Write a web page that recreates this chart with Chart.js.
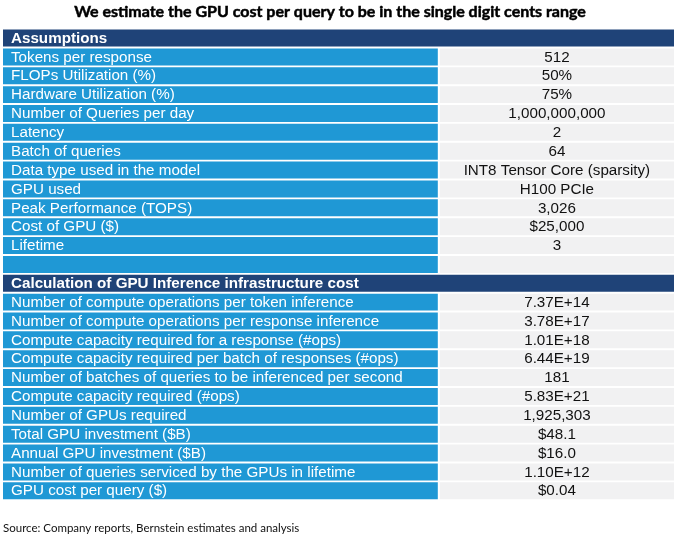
<!DOCTYPE html>
<html>
<head>
<meta charset="utf-8">
<script src="https://cdn.jsdelivr.net/npm/chart.js@4"></script>
<style>
  html, body { margin: 0; padding: 0; background: #fff; }
  #wrap { width: 680px; height: 539px; }
</style>
</head>
<body>
<div id="wrap"><canvas id="gpuTable"></canvas></div>
<script>
// Table contents
const chartTitle = 'We estimate the GPU cost per query to be in the single digit cents range';
const sourceNote = 'Source: Company reports, Bernstein estimates and analysis';
const sectionTitles = ['Assumptions', 'Calculation of GPU Inference infrastructure cost'];

const assumptionLabels = [
    'Tokens per response', 'FLOPs Utilization (%)', 'Hardware Utilization (%)',
    'Number of Queries per day', 'Latency', 'Batch of queries',
    'Data type used in the model', 'GPU used', 'Peak Performance (TOPS)',
    'Cost of GPU ($)', 'Lifetime'
];
const assumptionValues = [
    '512', '50%', '75%', '1,000,000,000', '2', '64',
    'INT8 Tensor Core (sparsity)', 'H100 PCIe', '3,026', '$25,000', '3'
];

const calcLabels = [
    'Number of compute operations per token inference',
    'Number of compute operations per response inference',
    'Compute capacity required for a response (#ops)',
    'Compute capacity required per batch of responses (#ops)',
    'Number of batches of queries to be inferenced per second',
    'Compute capacity required (#ops)',
    'Number of GPUs required',
    'Total GPU investment ($B)',
    'Annual GPU investment ($B)',
    'Number of queries serviced by the GPUs in lifetime',
    'GPU cost per query ($)'
];
const calcValues = [
    '7.37E+14', '3.78E+17', '1.01E+18', '6.44E+19', '181', '5.83E+21',
    '1,925,303', '$48.1', '$16.0', '1.10E+12', '$0.04'
];

document.addEventListener('DOMContentLoaded', () => {
    const navy = '#1f4378';
    const blue = '#1f98d5';
    const grey = '#f1f1f2';
    const splitLeft = 64.8;   // end of label column (x scale units)
    const splitRight = 65.1;  // start of value column
    const cellFont = '15.2px "Liberation Sans", Arial, sans-serif';

    // build the rows: header, items, blank, header, items
    const rows = [];
    rows.push({ kind: 'head', label: sectionTitles[0], value: '' });
    assumptionLabels.forEach((l, i) => rows.push({ kind: 'row', label: l, value: assumptionValues[i] }));
    rows.push({ kind: 'row', label: '', value: '' });
    rows.push({ kind: 'head', label: sectionTitles[1], value: '' });
    calcLabels.forEach((l, i) => rows.push({ kind: 'row', label: l, value: calcValues[i] }));

    const labelCells = rows.map(r => r.kind === 'head' ? [0, 100] : [0, splitLeft]);
    const valueCells = rows.map(r => r.kind === 'head' ? null : [splitRight, 100]);

    // Title + cell text drawn at the scale positions of each row
    const cellText = {
        id: 'cellText',
        afterDatasetsDraw(chart) {
            const { ctx, scales: { x, y } } = chart;
            ctx.save();
            ctx.textBaseline = 'middle';

            // title sits a bit left of the canvas centre, like the original;
            // thin stroke to get closer to its heavy weight
            ctx.fillStyle = '#000';
            ctx.strokeStyle = '#000';
            ctx.lineWidth = 0.5;
            ctx.textAlign = 'center';
            ctx.font = 'bold 16px Lato, sans-serif';
            ctx.fillText(chartTitle, 330, 12);
            ctx.strokeText(chartTitle, 330, 12);

            rows.forEach((r, i) => {
                const py = y.getPixelForValue(i) + 0.5;
                ctx.fillStyle = '#ffffff';
                ctx.textAlign = 'left';
                ctx.font = (r.kind === 'head' ? 'bold ' : '') + cellFont;
                ctx.fillText(r.label, x.getPixelForValue(0) + 8, py);
                if (r.value) {
                    ctx.fillStyle = '#111111';
                    ctx.textAlign = 'center';
                    ctx.font = cellFont;
                    ctx.fillText(r.value, x.getPixelForValue((splitRight + 100) / 2), py);
                }
            });
            ctx.restore();
        }
    };

    const ctx = document.getElementById('gpuTable').getContext('2d');
    new Chart(ctx, {
        type: 'bar',
        data: {
            labels: rows.map(r => r.label),
            datasets: [
                {
                    label: 'Label column',
                    data: labelCells,
                    backgroundColor: rows.map(r => r.kind === 'head' ? navy : blue),
                    grouped: false,
                    barPercentage: 0.9,
                    categoryPercentage: 1
                },
                {
                    label: 'Value column',
                    data: valueCells,
                    backgroundColor: grey,
                    grouped: false,
                    barPercentage: 0.9,
                    categoryPercentage: 1
                }
            ]
        },
        options: {
            indexAxis: 'y',
            responsive: true,
            maintainAspectRatio: false,
            animation: false,
            layout: { padding: { left: 3, right: 6, top: 28.6 } },
            plugins: {
                legend: { display: false },
                tooltip: { enabled: false },
                title: { display: false },
                subtitle: {
                    display: true,
                    position: 'bottom',
                    align: 'start',
                    text: sourceNote,
                    color: '#111',
                    font: { family: 'Lato', size: 11.5 },
                    padding: { top: 21.6, bottom: 3.4 }
                }
            },
            scales: {
                x: { type: 'linear', min: 0, max: 100, display: false },
                y: { display: false }
            }
        },
        plugins: [cellText]
    });
});
</script>
</body>
</html>
